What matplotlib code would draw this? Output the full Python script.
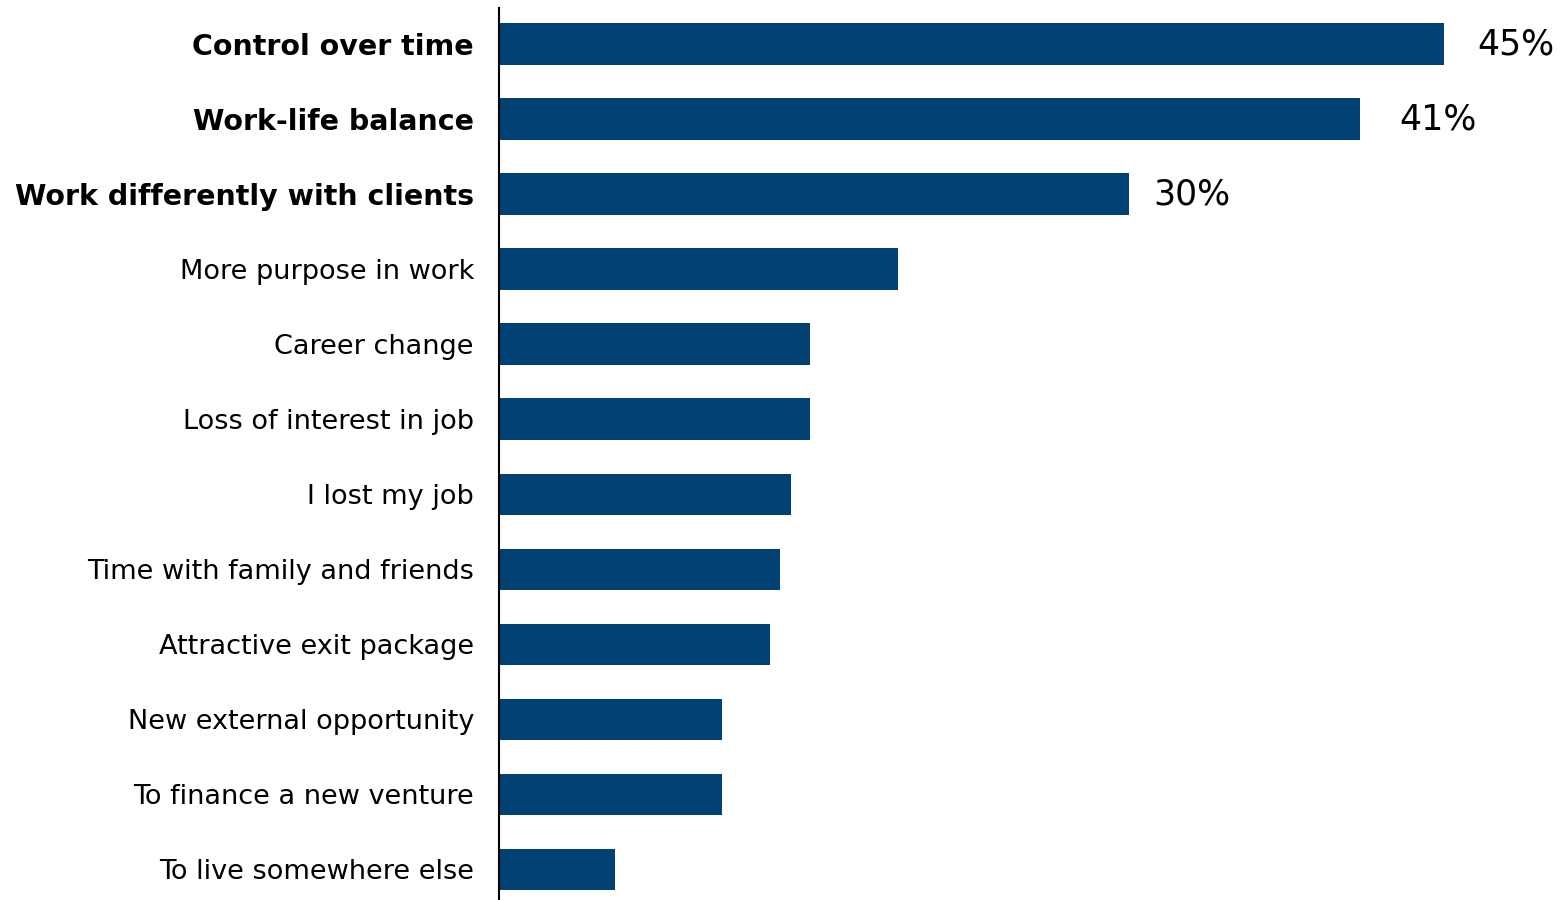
import matplotlib
matplotlib.use("Agg")
import matplotlib.pyplot as plt

categories = [
    "Control over time",
    "Work-life balance",
    "Work differently with clients",
    "More purpose in work",
    "Career change",
    "Loss of interest in job",
    "I lost my job",
    "Time with family and friends",
    "Attractive exit package",
    "New external opportunity",
    "To finance a new venture",
    "To live somewhere else",
]
values = [45, 41, 30, 19, 14.8, 14.8, 13.9, 13.4, 12.9, 10.6, 10.6, 5.5]
labelled = ["45%", "41%", "30%"]
bold_count = 3

bar_color = "#024173"
label_gap_px = [33, 39, 24]

fig = plt.figure(figsize=(15.57, 9), dpi=100)
ax = fig.add_axes([499 / 1557, 0.0, 1 - 499 / 1557, 892 / 900])

ypos = list(range(len(categories)))
ax.barh(ypos, values, height=0.55, color=bar_color)

ax.set_xlim(0, 1058 / 21)
ax.set_ylim(len(categories) - 1 + 0.41, -0.48)

ax.set_yticks(ypos)
ax.set_yticklabels(categories, fontsize=19.5, family="DejaVu Sans")
for i, t in enumerate(ax.get_yticklabels()):
    if i < bold_count:
        t.set_fontweight("bold")
        t.set_fontsize(20.5)
ax.tick_params(axis="y", length=0, pad=18)
ax.set_xticks([])

for s in ["top", "right", "bottom"]:
    ax.spines[s].set_visible(False)
ax.spines["left"].set_linewidth(1.5)
ax.spines["left"].set_color("black")

for i, txt in enumerate(labelled):
    ax.annotate(txt, xy=(values[i], i), xytext=(label_gap_px[i], 0), textcoords="offset pixels",
                va="center", ha="left", fontsize=25)

fig.savefig("out.png", dpi=100)
